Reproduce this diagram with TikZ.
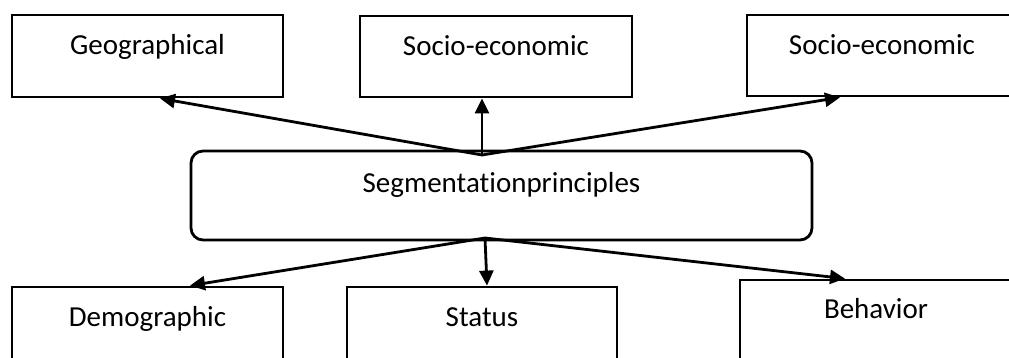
\documentclass[tikz,border=0pt]{standalone}
\usepackage{fontspec}
\setmainfont{Carlito}[Ligatures=NoCommon]
\usetikzlibrary{arrows.meta}
\begin{document}
\begin{tikzpicture}[x=1pt,y=-1pt,
  box/.style={draw, line width=2.8pt, inner sep=0pt, text height=20pt,
    font=\fontsize{29}{35}\selectfont},
  conn/.style={line width=2.8pt, -{Triangle[length=15pt,width=14pt]}}]
\useasboundingbox (0,0) rectangle (1009,358);
\clip (0,0) rectangle (1009,358);
% principle boxes, upper row
\node[box, minimum width=271pt, minimum height=82pt, text depth=22pt] (geo) at (147.5,56) {Geographical};
\node[box, minimum width=272pt, minimum height=81pt, text depth=22pt] (soc1) at (496,56.5) {Socio-economic};
\node[box, minimum width=270pt, minimum height=81pt, text depth=22pt] (soc2) at (882,55.5) {Socio-economic};
% central rounded box
\node[box, rounded corners=12pt, minimum width=621pt, minimum height=89pt, text depth=25pt] (seg) at (501.5,195.5) {Segmentationprinciples};
% principle boxes, lower row
\node[box, minimum width=271pt, minimum height=82pt, text depth=24pt] (dem) at (147.5,328) {Demographic};
\node[box, minimum width=270pt, minimum height=82pt, text depth=24pt] (sta) at (482,328) {Status};
\node[box, minimum width=272pt, minimum height=82pt, text depth=26pt] (beh) at (876,321) {Behavior};
% fan-out points on the central box
\coordinate (top) at (482,155);
\coordinate (bot) at (485,238);
\draw[conn] (top) -- (160,0 |- geo.south);
\draw[conn] (top) -- (482,0 |- soc1.south);
\draw[conn] (top) -- (840,0 |- soc2.south);
\draw[conn] (bot) -- (190,0 |- dem.north);
\draw[conn] (bot) -- (487,0 |- sta.north);
\draw[conn] (bot) -- (845,0 |- beh.north);
\end{tikzpicture}
\end{document}
